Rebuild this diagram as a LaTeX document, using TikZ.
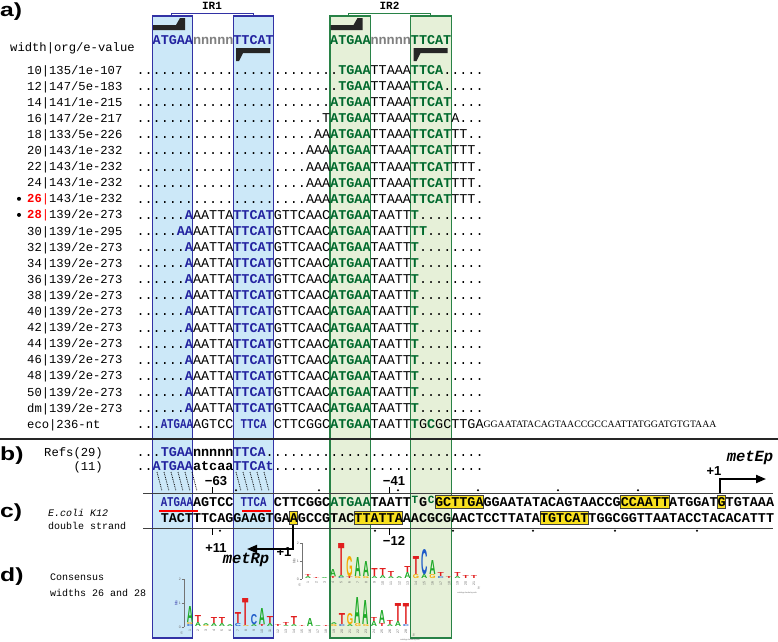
\documentclass[tikz,border=0pt]{standalone}
\usepackage{fontspec}
\usepackage{graphicx}
\setmainfont{Liberation Serif}
\setsansfont{Liberation Sans}
\setmonofont{Liberation Mono}
\usetikzlibrary{arrows.meta}
\ExplSyntaxOn
\NewDocumentCommand\rep{m}{\prg_replicate:nn{#1}{.}}
\ExplSyntaxOff
\definecolor{irblue}{RGB}{35,35,160}
\definecolor{bluefill}{RGB}{204,232,248}
\definecolor{blueline}{RGB}{50,50,165}
\definecolor{irgreen}{RGB}{0,105,45}
\definecolor{greenfill}{RGB}{230,240,216}
\definecolor{greenline}{RGB}{40,130,70}
\definecolor{hl}{RGB}{248,224,30}
\definecolor{lgA}{RGB}{30,170,40}
\definecolor{lgT}{RGB}{225,30,30}
\definecolor{lgC}{RGB}{30,90,200}
\definecolor{lgG}{RGB}{245,170,0}
\newcommand\cx[1]{152.5+8.07*(#1)}
\newcommand\ry[1]{70+16.1*(#1)}
\newcommand\BL[1]{\textcolor{irblue}{\bfseries #1}}
\newcommand\GR[1]{\textcolor{irgreen}{\bfseries #1}}
\newcommand\seqfont{\ttfamily\fontsize{13.45}{14}\selectfont}
\newcommand\hi[1]{\makebox[0.6em][c]{\raisebox{2.5pt}{\fontsize{11}{11}\selectfont\textcolor{irgreen}{#1}}}}
\newcommand\LL[5]{\node[inner sep=0pt,anchor=south] at (#1,#2) {\resizebox{6.3pt}{#3pt}{\textcolor{#5}{\sffamily\bfseries #4}}};}
\newcommand\lA[3]{\LL{#1}{#2}{#3}{A}{lgA}}
\newcommand\lT[3]{\LL{#1}{#2}{#3}{T}{lgT}}
\newcommand\lC[3]{\LL{#1}{#2}{#3}{C}{lgC}}
\newcommand\lG[3]{\LL{#1}{#2}{#3}{G}{lgG}}
\begin{document}
\begin{tikzpicture}[x=1pt,y=-1pt,
  seq/.style={font=\seqfont, inner sep=0pt, anchor=base west},
  bseq/.style={font=\seqfont\bfseries, inner sep=0pt, anchor=base west},
  lab/.style={font=\ttfamily\fontsize{12.2}{13}\selectfont, inner sep=0pt, anchor=base west},
  small/.style={font=\ttfamily\fontsize{10}{11}\selectfont, inner sep=0pt, anchor=base west},
  panel/.style={font=\sffamily\bfseries\fontsize{19}{19}\selectfont, inner sep=0pt, anchor=west},
  bluebox/.style={fill=bluefill, draw=blueline, line width=1.1pt},
  greenbox/.style={fill=greenfill, draw=greenline, line width=1.1pt},
  hlbox/.style={fill=hl, draw=black!75, line width=0.7pt},
  num/.style={font=\sffamily\bfseries\fontsize{13}{13}\selectfont, inner sep=0pt},
  promo/.style={font=\ttfamily\bfseries\itshape\fontsize{15.5}{16}\selectfont, inner sep=0pt},
  harp/.style={fill=black!85},
  tiny/.style={font=\sffamily\fontsize{3.5}{3.5}\selectfont, inner sep=0pt, text=black!60}]
\useasboundingbox (0,0) rectangle (778,641);
\fill[white] (0,0) rectangle (778,641);
% IR boxes
\path[bluebox] ({\cx{0}},16) rectangle ({\cx{5}},638);
\path[bluebox] ({\cx{10}},16) rectangle ({\cx{15}},638);
\path[greenbox] ({\cx{22}},16) rectangle ({\cx{27}},638);
\path[greenbox] ({\cx{32}},16) rectangle ({\cx{37}},638);
% brackets
\draw[blueline, line width=1pt] (171,16.5) -- (171,13.5) -- (253,13.5) -- (253,16.5);
\draw[greenline, line width=1pt] (348.5,16.5) -- (348.5,13.5) -- (430.5,13.5) -- (430.5,16.5);
\node[font=\ttfamily\bfseries\fontsize{11}{11}\selectfont, inner sep=0pt] (ir1) at (212,6) {IR1};
\node[font=\ttfamily\bfseries\fontsize{11}{11}\selectfont, inner sep=0pt] (ir2) at (389.5,6) {IR2};
% harpoons
\foreach \o in {0,177.5}{
  \fill[harp] ({153+\o},25) -- ({176+\o},25) -- ({180+\o},18) -- ({185+\o},18) -- ({185+\o},30) -- ({153+\o},30) -- cycle;
  \fill[harp] ({270+\o},48) -- ({236+\o},48) -- ({236+\o},61) -- ({239+\o},61) -- ({243+\o},53) -- ({270+\o},53) -- cycle;
}
% panel labels
\node[panel] (pa) at (0,12) {\scalebox{1.3}[1]{a)}};
\node[panel] (pb) at (0,456) {\scalebox{1.3}[1]{b)}};
\node[panel] (pc) at (0,513) {\scalebox{1.3}[1]{c)}};
\node[panel] (pd) at (0,577) {\scalebox{1.3}[1]{d)}};
% header
\node[seq] (hdr1) at ({\cx{0}},44.4) {\BL{ATGAA}\textcolor{gray}{\bfseries nnnnn}\BL{TTCAT}};
\node[seq] (hdr2) at ({\cx{22}},44.4) {\GR{ATGAA}\textcolor{gray}{\bfseries nnnnn}\GR{TTCAT}};
\node[lab] (hdrlab) at (10,51) {width|org/e-value};
% row labels
\node[lab] (l0) at (27,{\ry{0}+4}) {10|135/1e-107};
\node[lab] (l1) at (27,{\ry{1}+4}) {12|147/5e-183};
\node[lab] (l2) at (27,{\ry{2}+4}) {14|141/1e-215};
\node[lab] (l3) at (27,{\ry{3}+4}) {16|147/2e-217};
\node[lab] (l4) at (27,{\ry{4}+4}) {18|133/5e-226};
\node[lab] (l5) at (27,{\ry{5}+4}) {20|143/1e-232};
\node[lab] (l6) at (27,{\ry{6}+4}) {22|143/1e-232};
\node[lab] (l7) at (27,{\ry{7}+4}) {24|143/1e-232};
\node[lab] (l8) at (27,{\ry{8}+4}) {\textcolor{red}{\bfseries 26}\textcolor{red}{|}143/1e-232};
\node[lab] (l9) at (27,{\ry{9}+4}) {\textcolor{red}{\bfseries 28}\textcolor{red}{|}139/2e-273};
\node[lab] (l10) at (27,{\ry{10}+4}) {30|139/1e-295};
\node[lab] (l11) at (27,{\ry{11}+4}) {32|139/2e-273};
\node[lab] (l12) at (27,{\ry{12}+4}) {34|139/2e-273};
\node[lab] (l13) at (27,{\ry{13}+4}) {36|139/2e-273};
\node[lab] (l14) at (27,{\ry{14}+4}) {38|139/2e-273};
\node[lab] (l15) at (27,{\ry{15}+4}) {40|139/2e-273};
\node[lab] (l16) at (27,{\ry{16}+4}) {42|139/2e-273};
\node[lab] (l17) at (27,{\ry{17}+4}) {44|139/2e-273};
\node[lab] (l18) at (27,{\ry{18}+4}) {46|139/2e-273};
\node[lab] (l19) at (27,{\ry{19}+4}) {48|139/2e-273};
\node[lab] (l20) at (27,{\ry{20}+4}) {50|139/2e-273};
\node[lab] (l21) at (27,{\ry{21}+4}) {dm|139/2e-273};
\node[lab] (l22) at (27,{\ry{22}+4}) {eco|236-nt};
\fill (19,{\ry{8}}) circle (2);
\fill (19,{\ry{9}}) circle (2);
% alignment rows
\node[seq] (r0) at ({\cx{-2}},{\ry{0}+4.4}) {\rep{25}\GR{TGAA}TTAAA\GR{TTCA}\rep{5}};
\node[seq] (r1) at ({\cx{-2}},{\ry{1}+4.4}) {\rep{25}\GR{TGAA}TTAAA\GR{TTCA}\rep{5}};
\node[seq] (r2) at ({\cx{-2}},{\ry{2}+4.4}) {\rep{24}\GR{ATGAA}TTAAA\GR{TTCAT}\rep{4}};
\node[seq] (r3) at ({\cx{-2}},{\ry{3}+4.4}) {\rep{23}T\GR{ATGAA}TTAAA\GR{TTCAT}A\rep{3}};
\node[seq] (r4) at ({\cx{-2}},{\ry{4}+4.4}) {\rep{22}AA\GR{ATGAA}TTAAA\GR{TTCAT}TT\rep{2}};
\foreach \i in {5,6,7,8}{
  \node[seq] (r\i) at ({\cx{-2}},{\ry{\i}+4.4}) {\rep{21}AAA\GR{ATGAA}TTAAA\GR{TTCAT}TTT\rep{1}};
}
\foreach \i in {9,11,12,13,14,15,16,17,18,19,20,21}{
  \node[seq] (r\i) at ({\cx{-2}},{\ry{\i}+4.4}) {\rep{6}\BL{A}AATTA\BL{TTCAT}GTTCAAC\GR{ATGAA}TAATT\GR{T}\rep{8}};
}
\node[seq] (r10) at ({\cx{-2}},{\ry{10}+4.4}) {\rep{5}\BL{AA}AATTA\BL{TTCAT}GTTCAAC\GR{ATGAA}TAATT\GR{TT}\rep{7}};
\node[seq] (ecoA) at ({\cx{-2}},{\ry{22}+4.4}) {\rep{3}\scalebox{0.8}[1]{\BL{ATGAA}}AGTCC};
\node[seq] (ecoB) at (240.5,{\ry{22}+4.4}) {\scalebox{0.8}[1]{\BL{TTCA}}};
\node[seq] (ecoC) at ({\cx{15}},{\ry{22}+4.4}) {CTTCGGC\GR{ATGAA}TAATT\GR{T}G\GR{C}GCTTGA};
\node[font=\rmfamily\fontsize{9.8}{10}\selectfont, inner sep=0pt, anchor=base west] (ecotail) at ({\cx{41}},{\ry{22}+3.6}) {GGAATATACAGTAACCGCCAATTATGGATGTGTAAA};
% separator
\draw[line width=2.5pt, black!85] (0,439) -- (778,439);
% panel b
\node[lab, anchor=base east] (refs) at (103,456) {Refs(29)};
\node[lab, anchor=base east] (refs11) at (103,470) {(11)};
\node[seq] (b1) at ({\cx{-2}},456.4) {\rep{3}\BL{TGAA}\textbf{nnnnn}\BL{TTCA}\rep{27}};
\node[seq] (b2) at ({\cx{-2}},470.4) {\rep{2}\BL{ATGAA}\textbf{atcaa}\BL{TTCAt}\rep{26}};
\foreach \x in {157,164,171,178,185,192,236,243,250,257,264}{
  \draw[densely dotted, line width=0.8pt] (\x,472) -- ({\x+5},491);
}
% panel c
\node[small] (ecoli) at (48,516.5) {\textit{E.coli K12}};
\node[small] (dstr) at (48,529.5) {double strand};
\draw[black!75, line width=0.8pt] (143,493) -- (773,493);
\draw[black!75, line width=0.8pt] (143,528) -- (773,528);
\foreach \x in {236,319,398,478,558,638} \fill (\x,490.3) circle (1.1);
\foreach \x in {220,375,453,533,615,697} \fill (\x,530.7) circle (1.1);
% highlight boxes
\path[hlbox] ({\cx{35}},495.5) rectangle ({\cx{41}},508.5);
\path[hlbox] ({\cx{58}},495.5) rectangle ({\cx{64}},508.5);
\path[hlbox] ({\cx{70}},495.5) rectangle ({\cx{71}},508.5);
\path[hlbox] ({\cx{17}},511.5) rectangle ({\cx{18}},524.5);
\path[hlbox] ({\cx{25}},511.5) rectangle ({\cx{31}},524.5);
\path[hlbox] ({\cx{48}},511.5) rectangle ({\cx{54}},524.5);
\node[bseq] (topA) at ({\cx{1}},506.4) {\scalebox{0.8}[1]{\BL{ATGAA}}AGTCC};
\node[bseq] (topB) at (240.5,506.4) {\scalebox{0.8}[1]{\BL{TTCA}}};
\node[bseq] (topC) at ({\cx{15}},506.4) {CTTCGGC\GR{ATGAA}TAATT\hi{T}G\hi{C}GCTTGAGGAATATACAGTAACCGCCAATTATGGATGTGTAAA};
\node[bseq] (bot) at ({\cx{1}},522.4) {TACTTTCAGGAAGTGAAGCCGTACTTATTAAACGCGAACTCCTTATATGTCATTGGCGGTTAATACCTACACATTT};
\draw[red, line width=2.2pt] (159,511) -- (198,511);
\draw[red, line width=2.2pt] (242,511) -- (271,511);
% ticks
\draw[line width=0.8pt] (212,487) -- (212,493);
\draw[line width=0.8pt] (389,487) -- (389,493);
\draw[line width=0.8pt] (212,528) -- (212,535);
\draw[line width=0.8pt] (389,528) -- (389,535);
\node[num] (m63) at (216,481) {−63};
\node[num] (m41) at (394,481) {−41};
\node[num] (p11) at (216,548) {+11};
\node[num] (m12) at (394,541) {−12};
% promoters
\coordinate (eS) at (720,493);
\coordinate (eT) at (766,479);
\draw[line width=2pt, -{Triangle[length=10pt,width=8pt]}] (eS) |- (eT);
\node[num] (eplus) at (714,471) {+1};
\node[promo] (metE) at (750,458) {metEp};
\coordinate (rS) at (293,525);
\coordinate (rT) at (247,549);
\draw[line width=2pt, -{Triangle[length=10pt,width=8pt]}] (rS) |- (rT);
\node[num] (rplus) at (284,552) {+1};
\node[promo, anchor=base] (metR) at (246,563) {metRp};
% panel d labels
\node[small] (cons) at (50,580) {Consensus};
\node[small] (widths) at (50,596) {widths 26 and 28};
% lower logo axes
\draw[black!55, line width=0.6pt] (184,579) -- (184,627);
\foreach \yy/\t in {579/2,603/1,627/0}{
  \draw[black!55, line width=0.6pt] (181.5,\yy) -- (184,\yy);
  \node[tiny, anchor=east] at (181,\yy) {\t};
}
\node[tiny, rotate=90, text=irblue] (bits1) at (176,603) {bits};
\node[tiny] (f5a) at (182,633) {5'};
\foreach \i in {1,...,28}{
  \node[tiny, rotate=90, anchor=east] at ({190+8*(\i-1)},629) {\i};
}
\node[tiny] (f3a) at (414,635) {3'};
\node[font=\sffamily\fontsize{2}{2}\selectfont, text=black!60, inner sep=0pt] (wl1) at (410,640) {weblogo.berkeley.edu};
% lower logo letters
\lC{190}{627}{2} \lG{190}{625}{2} \lA{190}{623}{16}
\lA{198}{627}{4} \lT{198}{623}{7}
\lG{206}{627}{1} \lA{206}{626}{2}
\lA{214}{627}{3} \lT{214}{624}{6}
\lA{222}{627}{3} \lT{222}{624}{6}
\lA{230}{627}{2}
\lC{238}{627}{3} \lT{238}{624}{11}
\lG{246}{627}{1} \lT{246}{626}{27}
\lA{254}{627}{2} \lC{254}{625}{10}
\lT{262}{627}{2} \lA{262}{625}{16}
\lA{270}{627}{3} \lT{270}{624}{7}
\lT{278}{627}{2}
\lA{286}{627}{1} \lT{286}{626}{3}
\lA{294}{627}{2} \lT{294}{625}{8}
\lT{302}{627}{1}
\lA{310}{627}{8}
\lA{318}{627}{1}
\lT{326}{627}{1}
\lG{334}{627}{2} \lA{334}{625}{2}
\lC{342}{627}{2} \lT{342}{625}{11}
\lA{350}{627}{2} \lG{350}{625}{11}
\lG{358}{627}{3} \lA{358}{624}{26}
\lG{366}{627}{2} \lA{366}{625}{24}
\lA{374}{627}{5} \lT{374}{622}{4}
\lT{382}{627}{3} \lA{382}{624}{13}
\lA{390}{627}{2} \lT{390}{625}{4}
\lA{398}{627}{5} \lT{398}{622}{18}
\lC{406}{627}{2} \lT{406}{625}{21}
% upper logo axes
\draw[black!55, line width=0.6pt] (302,543) -- (302,579);
\foreach \yy/\t in {543/2,561/1,579/0}{
  \draw[black!55, line width=0.6pt] (299.5,\yy) -- (302,\yy);
  \node[tiny, anchor=east] at (299,\yy) {\t};
}
\node[tiny, rotate=90] (bits2) at (294,561) {bits};
\node[tiny] (f5b) at (300,585) {5'};
\foreach \i in {1,...,21}{
  \node[tiny, rotate=90, anchor=east] at ({308+8.3*(\i-1)},581.5) {\i};
}
\node[tiny] (f3b) at (479,588) {3'};
\node[font=\sffamily\fontsize{2}{2}\selectfont, text=black!60, inner sep=0pt] (wl2) at (467,593) {weblogo.berkeley.edu};
% upper logo letters
\lA{308}{579}{2} \lT{308}{577}{2}
\lT{316.3}{579}{1}
\lA{324.6}{579}{1}
\lT{332.9}{579}{2} \lA{332.9}{577}{7}
\lC{341.2}{579}{1} \lA{341.2}{578}{2} \lT{341.2}{576}{32}
\lT{349.5}{579}{2} \lG{349.5}{577}{20}
\lG{357.8}{579}{2} \lA{357.8}{577}{19}
\lG{366.1}{579}{2} \lA{366.1}{577}{15}
\lA{374.4}{579}{2} \lT{374.4}{577}{8}
\lA{382.7}{579}{3} \lT{382.7}{576}{7}
\lA{391}{579}{2} \lT{391}{577}{5}
\lA{399.3}{579}{2}
\lA{407.6}{579}{6} \lT{407.6}{573}{6}
\lG{415.9}{579}{4} \lT{415.9}{575}{18}
\lA{424.2}{579}{4} \lC{424.2}{575}{25}
\lG{432.5}{579}{4} \lA{432.5}{575}{14}
\lC{440.8}{579}{2} \lT{440.8}{577}{4}
\lT{449.1}{579}{2}
\lA{457.4}{579}{2} \lT{457.4}{577}{4}
\lT{465.7}{579}{3}
\lT{474}{579}{3}
\end{tikzpicture}
\end{document}
